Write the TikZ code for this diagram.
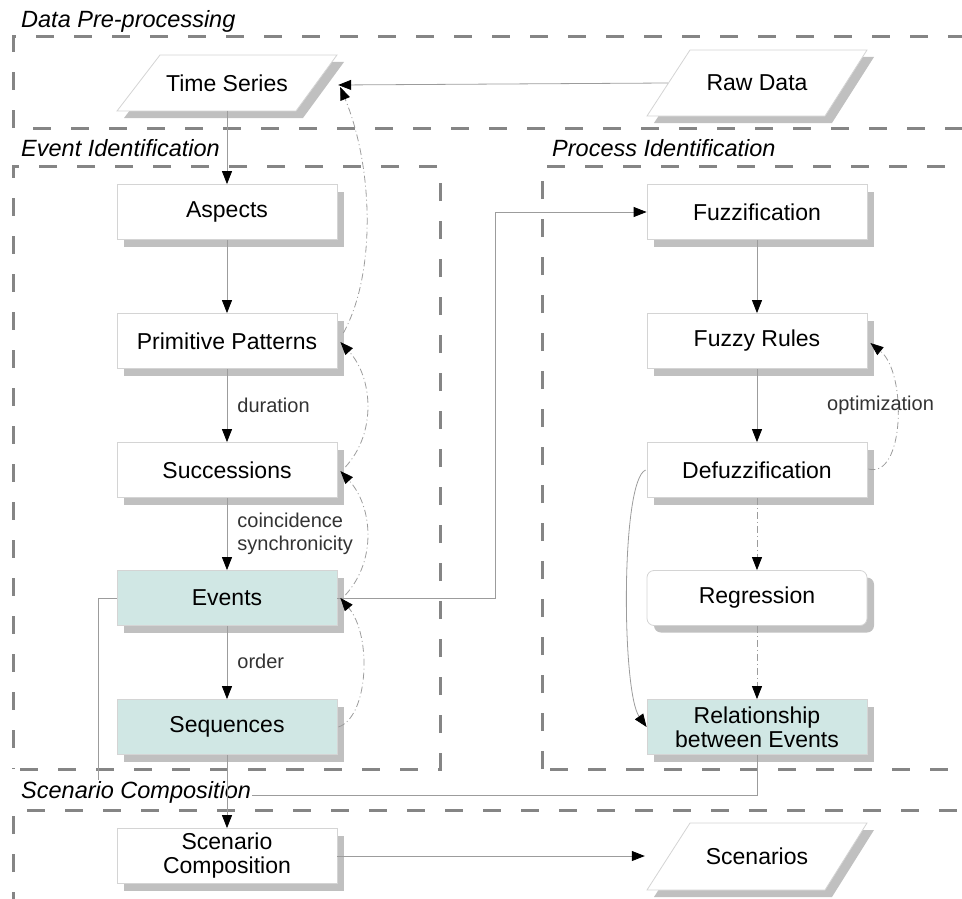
\documentclass[tikz,border=0pt]{standalone}
\usepackage{fontspec}
\setmainfont{Liberation Sans}
\usetikzlibrary{arrows.meta,shadows,calc}
\definecolor{bordergray}{HTML}{D4D4D4}
\definecolor{shadowgray}{HTML}{C0C0C0}
\definecolor{groupgray}{HTML}{858585}
\definecolor{linegray}{HTML}{9C9C9C}
\definecolor{eventfill}{HTML}{D0E7E4}
\definecolor{labelgray}{HTML}{333333}
\tikzset{
  shad/.style={drop shadow={shadow xshift=7pt, shadow yshift=-7pt, fill=shadowgray, opacity=1}},
  box/.style={draw=bordergray, fill=white, line width=0.8pt, minimum width=220pt, minimum height=55pt,
    inner sep=0pt, font=\fontsize{23}{25}\selectfont, align=center, shad},
  evbox/.style={box, fill=eventfill},
  rbox/.style={box, rounded corners=7pt},
  pgram/.style={draw=bordergray, fill=white, line width=0.8pt, shad},
  ptext/.style={minimum width=220pt, minimum height=55pt, inner sep=0pt, font=\fontsize{23}{25}\selectfont},
  grp/.style={draw=groupgray, line width=3pt, dash pattern=on 18pt off 20pt},
  grplabel/.style={font=\fontsize{23.5}{26}\selectfont\itshape, anchor=west, inner sep=1pt},
  conn/.style={draw=linegray, line width=0.8pt, -{Triangle[length=13pt,width=10pt,color=black]}},
  plain/.style={draw=linegray, line width=0.8pt},
  fb/.style={conn, dash pattern=on 7pt off 3pt on 1pt off 3pt},
  lbl/.style={font=\fontsize{20}{23}\selectfont, text=labelgray, anchor=west, inner sep=0pt, align=left}
}
\begin{document}
\begin{tikzpicture}[x=1pt,y=-1pt]
\useasboundingbox (0,0) rectangle (962,899);
\clip (0,0) rectangle (962,899);

% group boxes
\draw[grp] (13,128) -- (13,37) -- (980,37);
\draw[grp] (33,128) -- (980,128);
\draw[grp] (20,769) -- (440,769) -- (440,166) -- (13,166) -- (13,769);
\draw[grp] (550,769) -- (980,769);
\draw[grp] (542,769) -- (542,166) -- (980,166);
\draw[grp] (13,910) -- (13,810) -- (980,810);

\node[grplabel] (gdata) at (20,21) {Data Pre-processing};
\node[grplabel] (gproc) at (551,148) {Process Identification};
\node[grplabel] (gevent) at (20,148) {Event Identification};

% nodes
\path[pgram] (160,55) -- (337,55) -- (296,111) -- (117,111) -- cycle;
\node[ptext] (ts) at (227,83) {Time Series};
\path[pgram] (690,50) -- (867,50) -- (825,116) -- (647,116) -- cycle;
\node[ptext] (raw) at (757,83) {Raw Data};
\path[pgram] (690,823) -- (867,823) -- (825,890) -- (647,890) -- cycle;
\node[ptext] (scn) at (757,856) {Scenarios};

\node[box] (asp) at (227,212) {Aspects};
\node[box] (pp) at (227,341) {Primitive Patterns};
\node[box] (suc) at (227,470) {Successions};
\node[evbox] (ev) at (227,598) {Events};
\node[evbox] (seq) at (227,727) {Sequences};
\node[box] (sc) at (227,856) {Scenario\\[-1pt]Composition};
\node[box] (fz) at (757,212) {Fuzzification};
\node[box] (fr) at (757,341) {Fuzzy Rules};
\node[box] (dfz) at (757,470) {Defuzzification};
\node[rbox] (reg) at (757,598) {Regression};
\node[evbox] (rel) at (757,727) {Relationship\\[-1pt]between Events};

% Events -- Relationship line (no arrows)
\coordinate (c1) at (98,598);
\coordinate (c2) at (98,795);
\coordinate (c3) at (757,795);
\draw[plain] (ev.west) -- (c1) -- (c2) -- (c3) -- (rel.south);

\node[grplabel, fill=white] (gscen) at (20,792) {Scenario Composition};

% connectors
\coordinate (rawin) at (668,83);
\draw[conn] (rawin) -- ([xshift=1pt,yshift=-2pt]ts.east);
\draw[conn] (ts.south) -- (asp.north);
\draw[conn] (asp.south) -- (pp.north);
\draw[conn] (pp.south) -- node[lbl, pos=0.5, xshift=10pt] (l1) {duration} (suc.north);
\draw[conn] (suc.south) -- node[lbl, pos=0.5, xshift=10pt] (l2) {coincidence\\synchronicity} (ev.north);
\draw[conn] (ev.south) -- node[lbl, pos=0.48, xshift=10pt] (l3) {order} (seq.north);
\draw[conn] (seq.south) -- (sc.north);
\draw[conn] (sc.east) -- ([xshift=-2pt]scn.west);

\coordinate (e1) at (495,598);
\coordinate (e2) at (495,212);
\draw[conn] (ev.east) -- (e1) -- (e2) -- (fz.west);

\draw[conn] (fz.south) -- (fr.north);
\draw[conn] (fr.south) -- (dfz.north);
\draw[fb] (dfz.south) -- (reg.north);
\draw[fb] (reg.south) -- (rel.north);

% feedback curves
\draw[fb] ([xshift=6pt,yshift=8pt]pp.east) .. controls +(33,-60) and +(33,80) .. ([xshift=3pt,yshift=-4pt]ts.east);
\draw[fb] ([xshift=8pt,yshift=3pt]suc.east) .. controls +(32,-35) and +(32,35) .. ([xshift=3pt,yshift=-1pt]pp.east);
\draw[fb] ([xshift=8pt,yshift=3pt]ev.east) .. controls +(32,-35) and +(32,35) .. ([xshift=3pt,yshift=-1pt]suc.east);
\draw[fb] ([xshift=1pt]seq.east) .. controls +(30,-10) and +(32,38) .. ([xshift=3pt]ev.east);
\draw[fb] ([xshift=1pt,yshift=1pt]dfz.east) .. controls +(36,10) and +(37,30) .. ([xshift=3pt,yshift=-2pt]fr.east);
\node[lbl] (l4) at (827,405) {optimization};

\draw[conn] ([xshift=-1pt]dfz.west) .. controls +(-25,10) and +(-25,-35) .. (rel.west);
\end{tikzpicture}
\end{document}
